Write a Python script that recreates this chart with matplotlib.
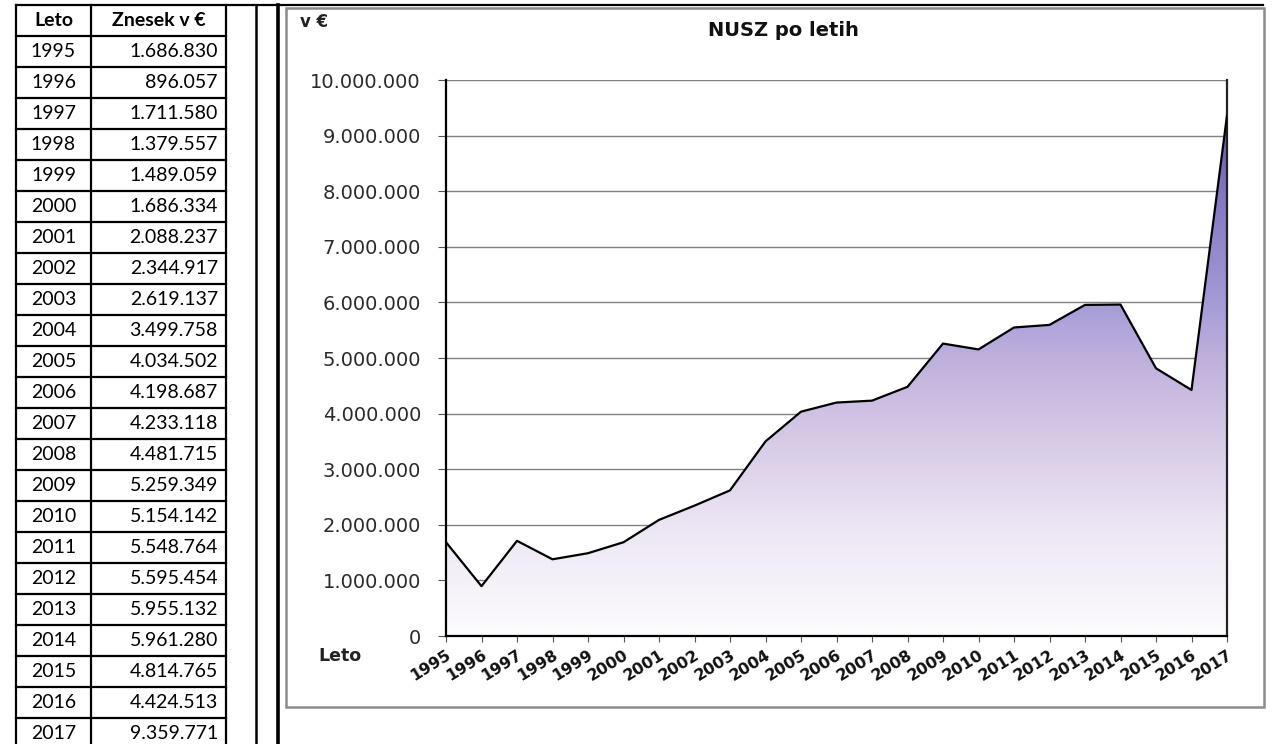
import numpy as np
import matplotlib.pyplot as plt
from matplotlib.colors import LinearSegmentedColormap
from matplotlib.patches import Polygon, Rectangle

# Data (NUSZ po letih)
years = [1995, 1996, 1997, 1998, 1999, 2000, 2001, 2002, 2003, 2004, 2005, 2006,
         2007, 2008, 2009, 2010, 2011, 2012, 2013, 2014, 2015, 2016, 2017]
amounts = [1686830, 896057, 1711580, 1379557, 1489059, 1686334, 2088237, 2344917,
           2619137, 3499758, 4034502, 4198687, 4233118, 4481715, 5259349, 5154142,
           5548764, 5595454, 5955132, 5961280, 4814765, 4424513, 9359771]
y_ticks = [0, 1000000, 2000000, 3000000, 4000000, 5000000,
           6000000, 7000000, 8000000, 9000000, 10000000]


def fmt(v):
    return f"{v:,}".replace(",", ".")


W, H = 1272, 744
fig = plt.figure(figsize=(W / 100, H / 100), dpi=100)
fig.patch.set_facecolor('white')

# background axes in pixel coords for table and frame
bg = fig.add_axes([0, 0, 1, 1], zorder=0)
bg.set_xlim(0, W)
bg.set_ylim(H, 0)
bg.axis('off')

# --- table on the left ---
tab_l, tab_m, tab_r = 16, 91, 226
top, row_h = 5, 31
lw_tab = 1.6
bg.plot([tab_l, 1263], [top, top], color='black', lw=lw_tab)
for x in (tab_l, tab_m, tab_r):
    bg.plot([x, x], [top, H], color='black', lw=lw_tab)
bg.plot([256, 256], [top, H], color='black', lw=1.8)
bg.plot([278, 278], [top, H], color='black', lw=2.6)
for i in range(len(years) + 1):
    y = top + row_h * (i + 1)
    bg.plot([tab_l, tab_r], [y, y], color='black', lw=lw_tab)

tfont = dict(family='Lato', fontsize=14)
bg.text((tab_l + tab_m) / 2, top + row_h / 2, 'Leto', ha='center', va='center',
        fontweight='bold', **tfont)
bg.text((tab_m + tab_r) / 2, top + row_h / 2, 'Znesek v €', ha='center', va='center',
        fontweight='bold', **tfont)
for i, (yr, amt) in enumerate(zip(years, amounts)):
    yc = top + row_h * (i + 1) + row_h / 2
    bg.text((tab_l + tab_m) / 2, yc, str(yr), ha='center', va='center', **tfont)
    bg.text(tab_r - 8, yc, fmt(amt), ha='right', va='center', **tfont)

# --- chart frame ---
bg.add_patch(Rectangle((286, 8), 978, 699, facecolor='white', edgecolor='#8c8c8c', lw=1.8))
bg.text(300, 22, 'v €', ha='left', va='center', fontsize=12, fontweight='bold', color='#222222')
bg.text(783, 31, 'NUSZ po letih', ha='center', va='center', fontsize=14,
        fontweight='bold', color='#111111')
bg.text(318, 656, 'Leto', ha='left', va='center', fontsize=12.5, fontweight='bold',
        color='#222222')

# --- area chart ---
ax = fig.add_axes([446 / W, 1 - 636 / H, (1227 - 446) / W, (636 - 80) / H], zorder=1)
ax.set_facecolor('white')

cmap = LinearSegmentedColormap.from_list('nusz', [
    (0.0, '#fdfcfe'), (0.2, '#ece5f3'), (0.4, '#d0c2e3'), (0.5, '#bfb0dc'),
    (0.6, '#a59bd6'), (0.8, '#8176c1'), (1.0, '#5a4ea6')])
grad = np.linspace(0, 1, 256).reshape(-1, 1)
im = ax.imshow(grad, extent=(years[0], years[-1], 0, y_ticks[-1]), origin='lower',
               aspect='auto', cmap=cmap, zorder=2)
verts = [(years[0], 0)] + list(zip(years, amounts)) + [(years[-1], 0)]
area = Polygon(verts, closed=True, facecolor='none', edgecolor='none')
ax.add_patch(area)
im.set_clip_path(area)

ax.plot(years, amounts, color='black', lw=1.6, zorder=3)

ax.set_xlim(years[0], years[-1])
ax.set_ylim(0, y_ticks[-1])
ax.set_yticks(y_ticks)
ax.set_yticklabels([fmt(v) for v in y_ticks])
ax.set_xticks(years)
ax.set_xticklabels([str(y) for y in years], rotation=32, ha='right', va='top',
                   rotation_mode='anchor', fontweight='bold', fontsize=11.5)
ax.grid(axis='y', color='#808080', lw=1.0, zorder=1)
ax.set_axisbelow(True)

ax.tick_params(axis='y', length=6, color='#555555', pad=12, labelsize=14,
               labelcolor='#2a2a2a')
ax.tick_params(axis='x', length=4, color='#555555', pad=4, labelcolor='#111111')
for s in ('left', 'bottom'):
    ax.spines[s].set_color('black')
    ax.spines[s].set_linewidth(1.6)
ax.spines['right'].set_color('#222222')
ax.spines['right'].set_linewidth(1.6)
ax.spines['top'].set_visible(False)

fig.savefig('out.png', dpi=100)
